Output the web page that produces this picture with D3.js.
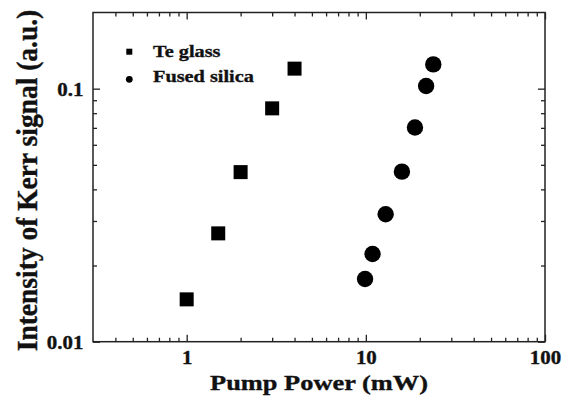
<!DOCTYPE html>
<html>
<head>
<meta charset="utf-8">
<script src="https://cdn.jsdelivr.net/npm/d3@7"></script>
<style>
  body { margin: 0; background: #fff; }
  svg { display: block; }
  text { font-family: "Liberation Serif", "Times New Roman", serif; font-weight: bold; fill: #111; stroke: #111; stroke-width: 0.35px; }
</style>
</head>
<body>
<svg id="chart" width="568" height="404"></svg>
<script>
// Kerr signal versus pump power, log-log
const teGlassPower   = [1, 1.5, 2, 3, 4];
const teGlassSignal  = [0.0147, 0.0268, 0.0468, 0.0836, 0.120];
const silicaPower    = [9.9, 10.9, 12.9, 15.9, 18.8, 21.7, 23.8];
const silicaSignal   = [0.0177, 0.0222, 0.0319, 0.047, 0.0702, 0.1024, 0.1247];
const seriesNames    = ["Te glass", "Fused silica"];
const xMajorTicks    = [1, 10, 100];
const xTickLabels    = ["1", "10", "100"];
const yMajorTicks    = [0.01, 0.1];
const yTickLabels    = ["0.01", "0.1"];
const xDomain        = [0.3, 100];
const yDomain        = [0.01, 0.2];
const xTitle         = "Pump Power (mW)";
const yTitle         = "Intensity of Kerr signal (a.u.)";

const svg = d3.select("#chart");
const box = { left: 93, right: 545, top: 12.5, bottom: 341.7 };
const stretch = 1.16;   // horizontal widening of the lettering

const x = d3.scaleLog().domain(xDomain).range([box.left, box.right]);
const y = d3.scaleLog().domain(yDomain).range([box.bottom, box.top]);

// minor ticks: every integer multiple inside each decade
function minorTicks(domain, majors) {
  const out = [];
  for (let e = -4; e <= 4; e++) {
    for (let m = 2; m <= 9; m++) {
      const v = m * Math.pow(10, e);
      if (v > domain[0] * 1.0001 && v < domain[1] * 0.9999 && !majors.includes(v)) out.push(v);
    }
  }
  return out;
}
const xMinor = minorTicks(xDomain, xMajorTicks);
const yMinor = minorTicks(yDomain, yMajorTicks);

const MAJ = 7, MIN = 4;
const axisColor = "#222";

function styleAxis(g) {
  g.select(".domain").remove();
  g.selectAll("line").attr("stroke", axisColor).attr("stroke-width", 1.3);
}

// bottom
svg.append("g").attr("transform", `translate(0,${box.bottom})`)
  .call(d3.axisBottom(x).tickValues(xMajorTicks).tickSize(-MAJ).tickPadding(10)
        .tickFormat((d, i) => xTickLabels[i]))
  .call(styleAxis)
  .call(g => g.selectAll("text").attr("font-size", 18).attr("font-family", null)
        .attr("transform", `scale(${stretch},1)`).attr("fill", "#111"));
svg.append("g").attr("transform", `translate(0,${box.bottom})`)
  .call(d3.axisBottom(x).tickValues(xMinor).tickSize(-MIN).tickFormat(""))
  .call(styleAxis);

// top (mirror, no labels)
svg.append("g").attr("transform", `translate(0,${box.top})`)
  .call(d3.axisTop(x).tickValues(xMajorTicks).tickSize(-MAJ).tickFormat(""))
  .call(styleAxis);
svg.append("g").attr("transform", `translate(0,${box.top})`)
  .call(d3.axisTop(x).tickValues(xMinor).tickSize(-MIN).tickFormat(""))
  .call(styleAxis);

// left
svg.append("g").attr("transform", `translate(${box.left},0)`)
  .call(d3.axisLeft(y).tickValues(yMajorTicks).tickSize(-MAJ).tickPadding(8.3)
        .tickFormat((d, i) => yTickLabels[i]))
  .call(styleAxis)
  .call(g => g.selectAll("text").attr("font-size", 18).attr("font-family", null)
        .attr("dy", "0.36em").attr("transform", `scale(${stretch},1)`).attr("fill", "#111"));
svg.append("g").attr("transform", `translate(${box.left},0)`)
  .call(d3.axisLeft(y).tickValues(yMinor).tickSize(-MIN).tickFormat(""))
  .call(styleAxis);

// right (mirror, no labels)
svg.append("g").attr("transform", `translate(${box.right},0)`)
  .call(d3.axisRight(y).tickValues(yMajorTicks).tickSize(-MAJ).tickFormat(""))
  .call(styleAxis);
svg.append("g").attr("transform", `translate(${box.right},0)`)
  .call(d3.axisRight(y).tickValues(yMinor).tickSize(-MIN).tickFormat(""))
  .call(styleAxis);

// frame
svg.append("rect")
  .attr("x", box.left).attr("y", box.top)
  .attr("width", box.right - box.left).attr("height", box.bottom - box.top)
  .attr("fill", "none").attr("stroke", axisColor).attr("stroke-width", 1.5);

// Te glass: squares
const sq = 14;
svg.append("g").selectAll("rect")
  .data(d3.zip(teGlassPower, teGlassSignal))
  .join("rect")
  .attr("x", d => x(d[0]) - sq / 2)
  .attr("y", d => y(d[1]) - sq / 2)
  .attr("width", sq).attr("height", sq)
  .attr("fill", "#000");

// Fused silica: circles
svg.append("g").selectAll("circle")
  .data(d3.zip(silicaPower, silicaSignal))
  .join("circle")
  .attr("cx", d => x(d[0]))
  .attr("cy", d => y(d[1]))
  .attr("r", 8.2)
  .attr("fill", "#000");

// legend
const legend = svg.append("g");
legend.append("rect").attr("x", 129.3 - 3).attr("y", 51.7 - 3).attr("width", 6).attr("height", 6).attr("fill", "#000");
legend.append("circle").attr("cx", 129.3).attr("cy", 79.3).attr("r", 3.4).attr("fill", "#000");
[[seriesNames[0], 56.7], [seriesNames[1], 81.7]].forEach(([t, by]) => {
  legend.append("text")
    .attr("transform", `translate(153,${by}) scale(${stretch},1)`)
    .attr("font-size", 17.5)
    .text(t);
});

// axis titles
svg.append("text")
  .attr("transform", `translate(${(box.left + box.right) / 2},390) scale(1.2,1)`)
  .attr("text-anchor", "middle")
  .attr("font-size", 22)
  .text(xTitle);

svg.append("text")
  .attr("transform", `translate(37,180.5) rotate(-90) scale(1,1.1)`)
  .attr("text-anchor", "middle")
  .attr("font-size", 27.5)
  .text(yTitle);
</script>
</body>
</html>
